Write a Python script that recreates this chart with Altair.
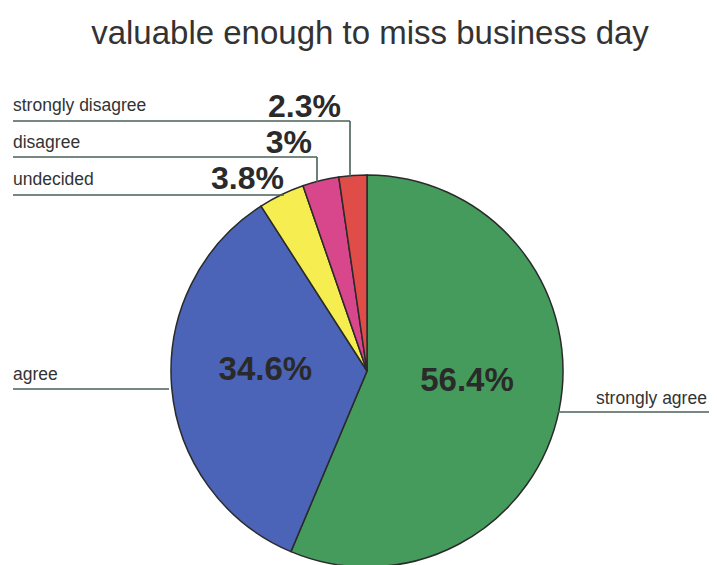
import altair as alt
import pandas as pd

# ---- data ----
categories = ["strongly agree", "agree", "undecided", "disagree", "strongly disagree"]
values = [56.4, 34.6, 3.8, 3.0, 2.3]
colors = ["#459b5c", "#4b64b7", "#f6ee50", "#d8468c", "#e04c48"]

# ---- callout layout (page pixels) ----
OFF = 8
label_pos = {  # name label: x, baseline y
    "strongly disagree": (13, 111),
    "disagree": (13, 148),
    "undecided": (13, 185),
    "agree": (13, 380),
    "strongly agree": (596, 404),
}
pct_pos = {  # right-aligned percent label: x, baseline y (outside slices only)
    "strongly disagree": (341, 117),
    "disagree": (312, 153),
    "undecided": (284, 189),
}
leader_segments = [  # (category, x1, y1, x2, y2)
    ("strongly disagree", 13, 121, 350, 121),
    ("strongly disagree", 350, 121, 350, 177),
    ("disagree", 13, 157, 317, 157),
    ("disagree", 317, 157, 317, 182),
    ("undecided", 13, 195, 284, 195),
    ("agree", 13, 389, 169, 389),
    ("strongly agree", 558, 412, 717, 412),
]

CX, CY, R = 367 - OFF, 371 - OFF, 196

df = pd.DataFrame({"category": categories, "value": values, "order": range(len(categories))})

color_scale = alt.Scale(domain=categories, range=colors)

base = alt.Chart(df).encode(
    theta=alt.Theta("value:Q", stack=True),
    order=alt.Order("order:Q"),
)

pie = base.mark_arc(outerRadius=R, stroke="#2a2a2a", strokeWidth=1.5).encode(
    color=alt.Color("category:N", scale=color_scale, legend=None),
    x=alt.value(CX),
    y=alt.value(CY),
)

inner = base.transform_calculate(
    lab="datum.value > 10 ? datum.value + '%' : ''"
).mark_text(
    radius=102, dy=-10, font="Liberation Sans", fontSize=33, fontWeight="bold", color="#2a2a2a"
).encode(
    text="lab:N",
    x=alt.value(CX),
    y=alt.value(CY),
)

seg_df = pd.DataFrame(
    [{"category": c, "x1": x1 - OFF, "y1": y1 - OFF, "x2": x2 - OFF, "y2": y2 - OFF}
     for c, x1, y1, x2, y2 in leader_segments]
)
lines = alt.Chart(seg_df).mark_rule(color="#4a5f58", strokeWidth=1.6).encode(
    x=alt.X("x1:Q", scale=None, axis=None),
    y=alt.Y("y1:Q", scale=None, axis=None),
    x2="x2:Q",
    y2="y2:Q",
)

lab_df = pd.DataFrame(
    [{"category": c, "x": label_pos[c][0] - OFF, "y": label_pos[c][1] - OFF} for c in categories]
)
names = alt.Chart(lab_df).mark_text(
    align="left", baseline="alphabetic", font="Liberation Sans", fontSize=17.5, color="#333333"
).encode(
    x=alt.X("x:Q", scale=None, axis=None),
    y=alt.Y("y:Q", scale=None, axis=None),
    text="category:N",
)

pct_df = pd.DataFrame(
    [{"category": c, "pct": f"{v:g}%", "x": pct_pos[c][0] - OFF, "y": pct_pos[c][1] - OFF}
     for c, v in zip(categories, values) if c in pct_pos]
)
pcts = alt.Chart(pct_df).mark_text(
    align="right", baseline="alphabetic", font="Liberation Sans", fontSize=32,
    fontWeight="bold", color="#2a2a2a"
).encode(
    x=alt.X("x:Q", scale=None, axis=None),
    y=alt.Y("y:Q", scale=None, axis=None),
    text="pct:N",
)

title = alt.Chart(pd.DataFrame({"t": ["valuable enough to miss business day"]})).mark_text(
    align="center", baseline="alphabetic", font="Liberation Sans", fontSize=33, color="#333333"
).encode(
    x=alt.value(370 - OFF),
    y=alt.value(44 - OFF),
    text="t:N",
)

chart = alt.layer(pie, inner, lines, names, pcts, title).properties(
    width=701, height=580, padding=0, autosize=alt.AutoSizeParams(type="none")
).configure_view(stroke=None)

chart.save("out.html", embed_options={"renderer": "svg", "actions": False})
